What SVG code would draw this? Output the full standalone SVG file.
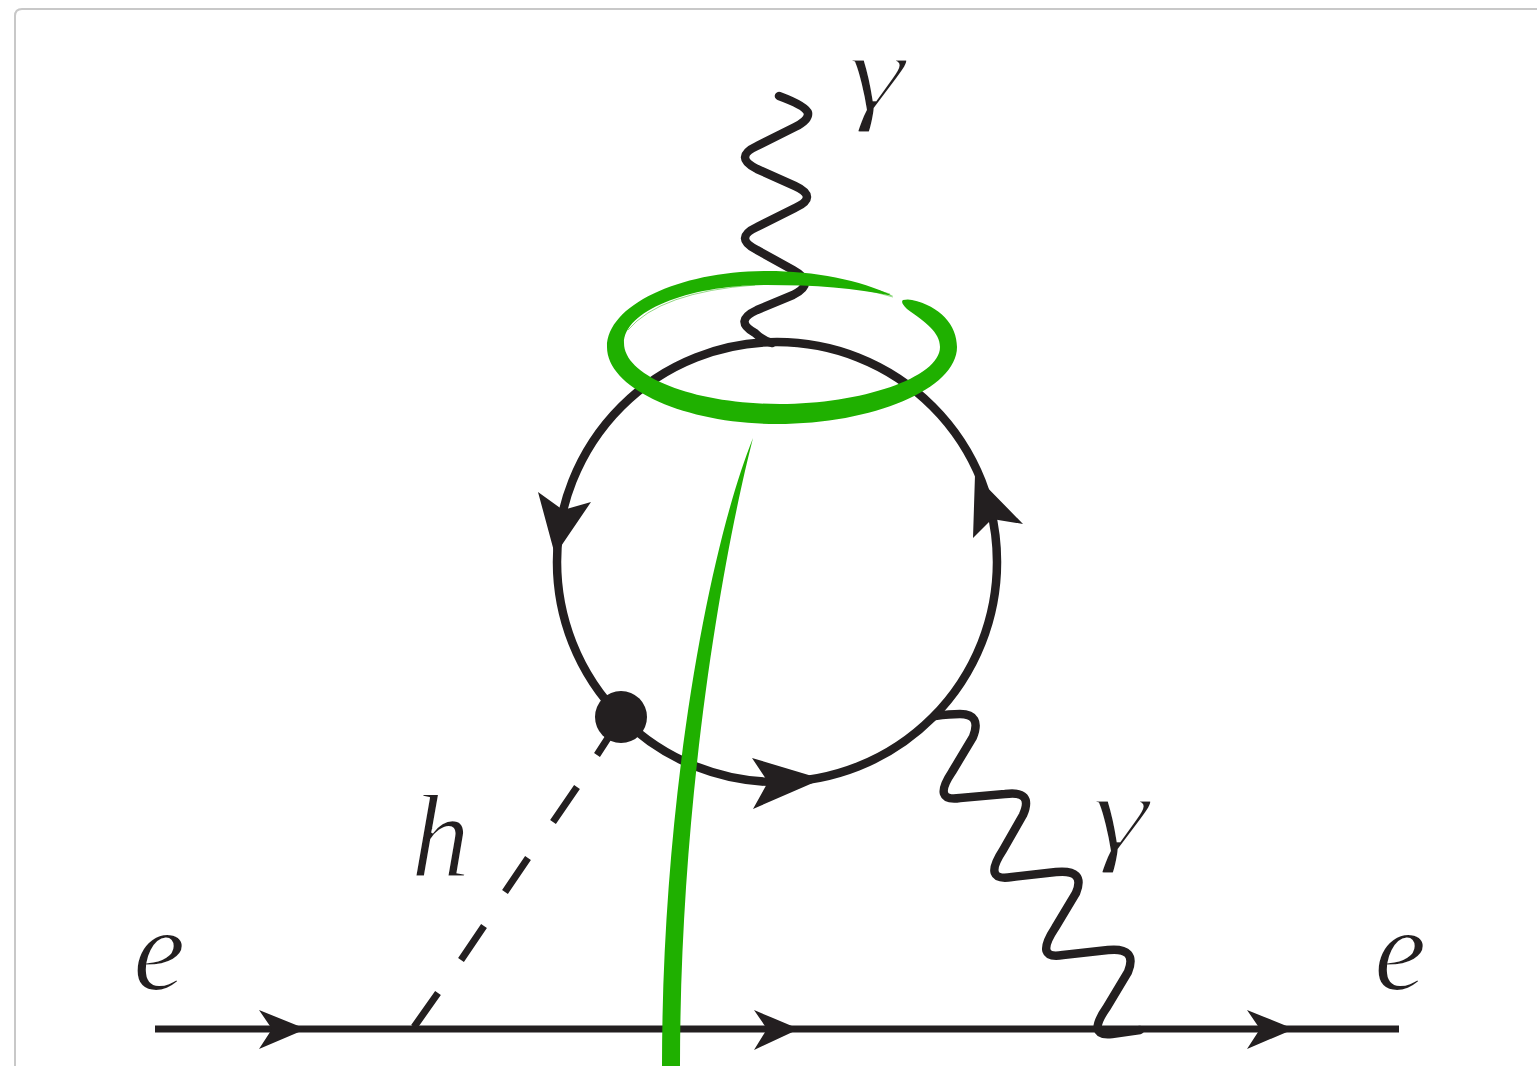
<svg xmlns="http://www.w3.org/2000/svg" width="1537" height="1066" viewBox="0 0 1537 1066">
<style>
.l{fill:none;stroke:#231f20;stroke-width:8.5;stroke-linecap:round;stroke-linejoin:round}
.h{fill:#231f20;stroke:none}
.g{fill:#1fb000;stroke:none}
.s{fill:none;stroke:#1fb000;stroke-width:.8;opacity:.6}
.t{font-family:"Liberation Serif",serif;font-style:italic;fill:#231f20;font-size:118px;stroke:#fff;stroke-width:2}
.y{font-size:110px;stroke-width:3}
</style>
<rect width="1537" height="1066" fill="#fff"/>
<path d="M1537 9H22Q15 9 15 16V1066" fill="none" stroke="#c8c8c8" stroke-width="2"/>
<g id="connectors">
<path id="line" class="l" d="M155 1029H1399" style="stroke-linecap:butt;stroke-width:7"/>
<path id="h-line" class="l" d="M414 1027L438 993M461 960L484 926M505 892L528 858M553 822L577 787M597 755L608 738" style="stroke-linecap:butt;stroke-width:7"/>
<circle id="loop" class="l" cx="777" cy="562" r="220"/>
<path id="photon-top" class="l" d="M779 96Q806 106 808 113Q809 120 795 127L757 146Q733 157 757 169L795 186Q819 197 795 208L757 227Q733 238 757 250L793 270Q817 283 793 295L757 310Q733 321 755 333Q762 340 772 343"/>
<path id="photon-right" class="l" d="M935 716Q950 714 960 714Q982 714 973 737L952 772Q932 802 960 798L1005 794Q1034 790 1023 815L1003 850Q982 882 1012 877L1056 872Q1086 869 1076 893L1055 928Q1034 960 1063 955L1108 950Q1138 947 1128 972L1107 1007Q1086 1037 1112 1034L1140 1030"/>
</g>
<g id="arrows">
<path class="h" d="M306 1029L259 1010L272 1029L259 1049Z"/>
<path class="h" d="M799 1029L754 1010L767 1029L754 1050Z"/>
<path class="h" d="M1294 1029L1247 1010L1260 1029L1247 1049Z"/>
<path class="h" d="M555 555L538 492L563 510L591 502Z"/>
<path class="h" d="M975 475L1023 524L992 519L973 538Z"/>
<path class="h" d="M822 779L752 758L768 782L753 809Z"/>
</g>
<g id="vertex"><circle class="h" cx="621" cy="717" r="26"/></g>
<g id="label-gamma-top"><text class="t y" x="847" y="110" textLength="58" lengthAdjust="spacingAndGlyphs">γ</text></g>
<g id="label-gamma-right"><text class="t y" x="1091" y="851" textLength="58" lengthAdjust="spacingAndGlyphs">γ</text></g>
<g id="label-h"><text class="t" x="411" y="876">h</text></g>
<g id="label-e-left"><text class="t" x="133" y="990">e</text></g>
<g id="label-e-right"><text class="t" x="1374" y="990">e</text></g>
<g id="green-ring"><path class="g" d="M893 296C860 280 815 271 767 271C680 271 607 305 607 347C607 389 686 424 777 424C873 424 957 389 957 347C957 325 940 306 912 300Q908 299 903 300Q900 302 907 309C925 322 940 332 940 347C940 378 860 404 780 404C695 404 624 377 624 343C624 311 688 285 767 285C815 285 855 288 893 296Z"/><path class="s" d="M800 273Q850 282 890 294M810 280Q855 286 893 297M628 330Q660 292 755 285"/></g>
<g id="green-stem"><path class="g" d="M753 438C708 550 662 800 662 1066H680C680 800 722 560 753 438Z"/></g>
</svg>
